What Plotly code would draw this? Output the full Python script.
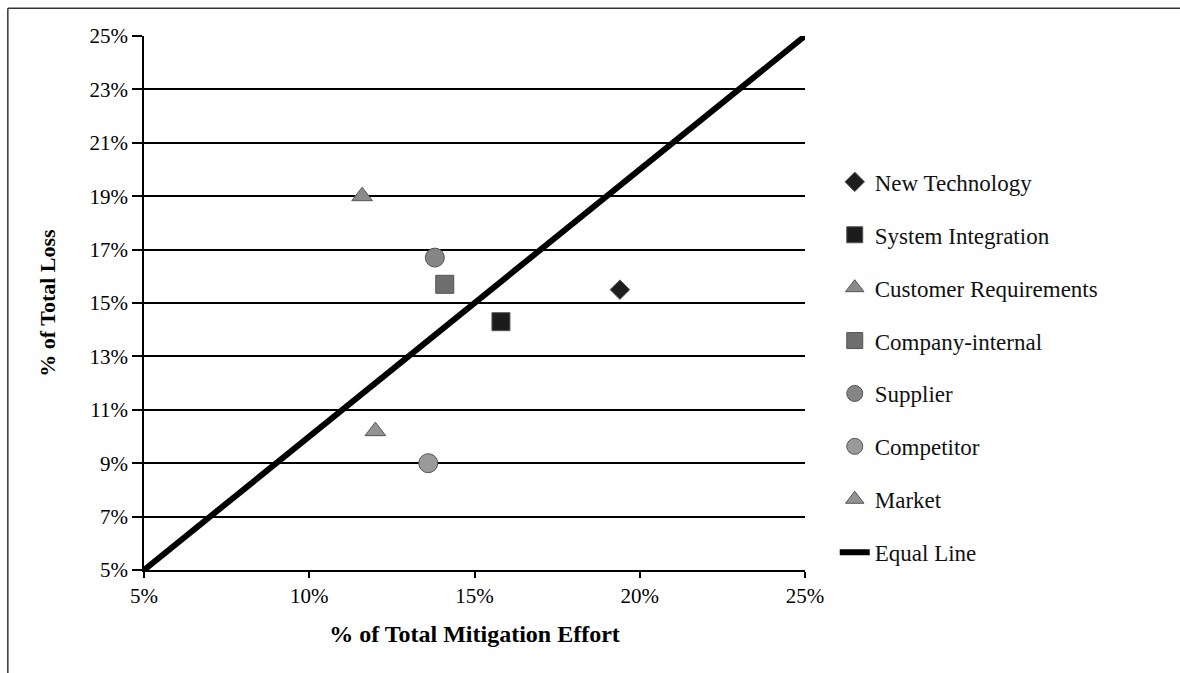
import plotly.graph_objects as go

# Risk categories: share of total mitigation effort (x) vs share of total loss (y), in %
categories = ["New Technology", "System Integration", "Customer Requirements",
              "Company-internal", "Supplier", "Competitor", "Market"]
effort_pct = [19.4, 15.8, 11.6, 14.1, 13.8, 13.6, 12.0]
loss_pct = [15.5, 14.3, 19.0, 15.7, 16.7, 9.0, 10.2]
symbols = ["diamond", "square", "triangle-up", "square", "circle", "circle", "triangle-up"]
colors = ["#1e1e1e", "#1c1c1c", "#8a8a8a", "#6e6e6e", "#858585", "#9a9a9a", "#929292"]
sizes = [15, 18, 18, 18, 19, 19, 18]

equal_line = [5, 25]
x_ticks = [5, 10, 15, 20, 25]
y_ticks = [5, 7, 9, 11, 13, 15, 17, 19, 21, 23, 25]

FONT = "Liberation Serif"

fig = go.Figure()

for i, name in enumerate(categories):
    fig.add_trace(go.Scatter(
        x=[effort_pct[i]], y=[loss_pct[i]], mode="markers", name=name,
        legendgroup=name,
        marker=dict(symbol=symbols[i], size=sizes[i], color=colors[i],
                    line=dict(width=1, color="#555555")),
    ))

fig.add_trace(go.Scatter(
    x=equal_line, y=equal_line, mode="lines", name="Equal Line",
    legendgroup="Equal Line",
    line=dict(color="black", width=6),
))

fig.update_layout(
    width=1180, height=673,
    margin=dict(l=144, r=375, t=36, b=103),
    paper_bgcolor="white", plot_bgcolor="white",
    font=dict(family=FONT, size=21, color="black"),
    showlegend=True,
    legend=dict(x=1.045, y=0.767, xanchor="left", yanchor="top",
                font=dict(family=FONT, size=23, color="#111111"),
                tracegroupgap=20, itemwidth=30, bgcolor="rgba(0,0,0,0)"),
    xaxis=dict(
        range=[5, 25], tickvals=x_ticks, ticktext=[f"{v}%" for v in x_ticks],
        showgrid=False, zeroline=False,
        showline=True, linecolor="black", linewidth=1.5,
        ticks="outside", ticklen=6, tickwidth=1.5, tickcolor="black",
        tickfont=dict(family=FONT, size=21),
        title=dict(text="<b>% of Total Mitigation Effort</b>", standoff=18,
                   font=dict(family=FONT, size=24)),
    ),
    yaxis=dict(
        range=[5, 25], tickvals=y_ticks, ticktext=[f"{v}%" for v in y_ticks],
        showgrid=True, gridcolor="black", gridwidth=1.5, zeroline=False,
        showline=True, linecolor="black", linewidth=1.5,
        ticks="outside", ticklen=10, tickwidth=1.5, tickcolor="black",
        tickfont=dict(family=FONT, size=21),
        title=dict(text="<b>% of Total Loss</b>", standoff=28,
                   font=dict(family=FONT, size=22)),
    ),
)

# outer frame around the chart
fig.add_shape(type="line", xref="paper", yref="paper", x0=-0.206, x1=1.6,
              y0=1.052, y1=1.052, line=dict(color="#333333", width=1.5))
fig.add_shape(type="line", xref="paper", yref="paper", x0=-0.206, x1=-0.206,
              y0=-0.2, y1=1.052, line=dict(color="#333333", width=1.5))

fig.write_html("out.html")
